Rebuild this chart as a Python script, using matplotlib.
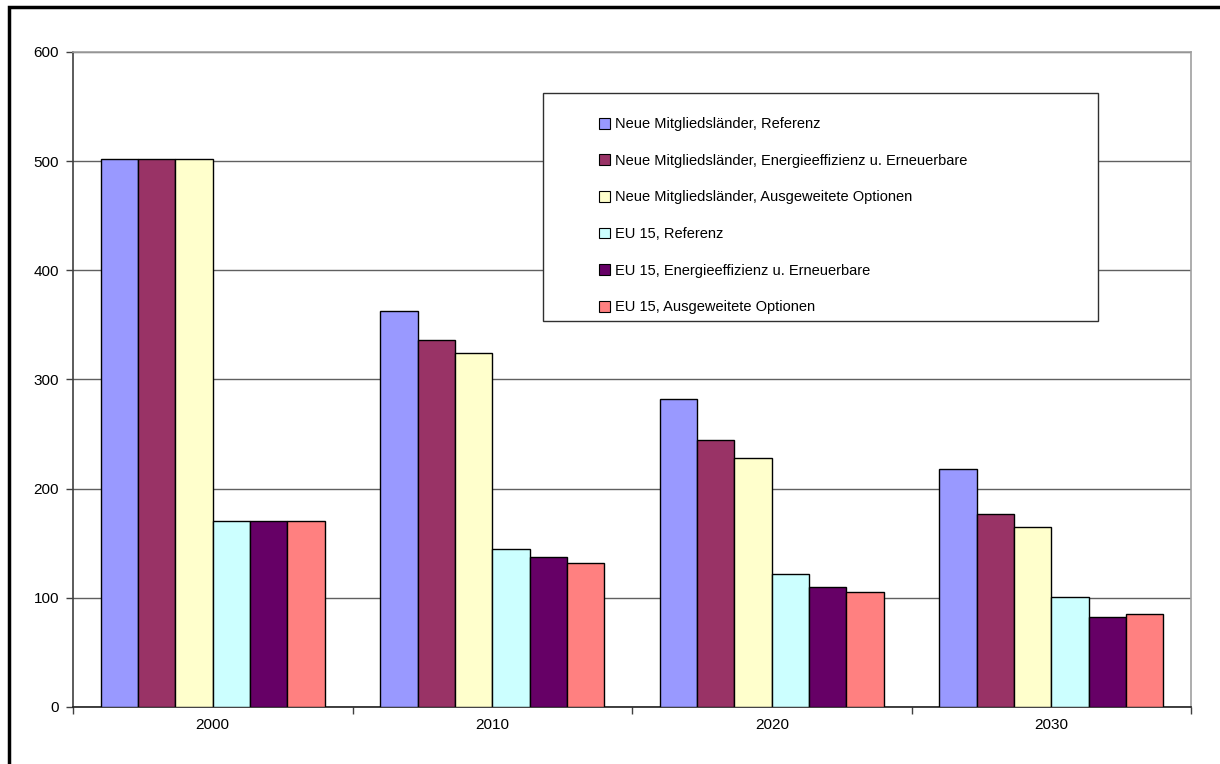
import matplotlib
matplotlib.use("Agg")
import matplotlib.pyplot as plt
from matplotlib.patches import Rectangle, Patch
import numpy as np

plt.rcParams['font.family'] = ['Liberation Sans', 'DejaVu Sans']

years = ['2000', '2010', '2020', '2030']
series_names = [
    'Neue Mitgliedsländer, Referenz',
    'Neue Mitgliedsländer, Energieeffizienz u. Erneuerbare',
    'Neue Mitgliedsländer, Ausgeweitete Optionen',
    'EU 15, Referenz',
    'EU 15, Energieeffizienz u. Erneuerbare',
    'EU 15, Ausgeweitete Optionen',
]
nm_referenz = [502, 363, 282, 218]
nm_effizienz = [502, 336, 245, 177]
nm_optionen = [502, 324, 228, 165]
eu_referenz = [170, 145, 122, 101]
eu_effizienz = [170, 137, 110, 82]
eu_optionen = [170, 132, 105, 85]
colors = ['#9999FF', '#993366', '#FFFFCC', '#CCFFFF', '#660066', '#FF8080']

values = [nm_referenz, nm_effizienz, nm_optionen, eu_referenz, eu_effizienz, eu_optionen]

fig = plt.figure(figsize=(12.2, 7.64), dpi=100)
ax = fig.add_axes([73/1220, 1-707/764, (1191-73)/1220, (707-52)/764])

# outer frame of the chart
fig.patches.append(Rectangle((9/1220, -0.05), 1.1, 1 - 7/764 + 0.05, transform=fig.transFigure,
                             fill=False, edgecolor='black', linewidth=2.5, zorder=0))

n = len(values)
w = 0.8 / n
x = np.arange(len(years)) + 0.5
for i, (vals, c) in enumerate(zip(values, colors)):
    ax.bar(x - 0.4 + w * (i + 0.5), vals, width=w, color=c, edgecolor='black',
           linewidth=1.0, zorder=3)

ax.set_xlim(0, 4)
ax.set_ylim(0, 600)
ax.set_yticks(range(0, 601, 100))
ax.yaxis.grid(True, color='#606060', linewidth=1.0, zorder=0)
ax.set_axisbelow(True)

ax.set_xticks(range(0, 5))
ax.set_xticklabels([])
ax.set_xticks(x, minor=True)
ax.set_xticklabels(years, minor=True)
ax.tick_params(axis='x', which='major', length=5, width=1, color='#404040', direction='out')
ax.tick_params(axis='x', which='minor', length=0, labelsize=11, pad=8)
ax.tick_params(axis='y', length=5, width=1, color='#404040', labelsize=11, pad=5)

ax.spines['left'].set_color('#404040')
ax.spines['bottom'].set_color('#202020')
ax.spines['top'].set_color('#a0a0a0')
ax.spines['right'].set_color('#a0a0a0')
for s in ax.spines.values():
    s.set_linewidth(1.2)

# legend box
fig.patches.append(Rectangle((543/1220, 1-321/764), (1098-543)/1220, (321-93)/764,
                             transform=fig.transFigure, facecolor='white',
                             edgecolor='#303030', linewidth=1.0, zorder=5))
handles = [Patch(facecolor=c, edgecolor='black', linewidth=0.8) for c in colors]
leg = fig.legend(handles, series_names, loc='upper left',
                 bbox_to_anchor=(592/1220, 1-110/764), frameon=False,
                 fontsize=10.5, handlelength=0.75, handleheight=0.75,
                 handletextpad=0.35, labelspacing=1.55, borderpad=0)
leg.set_zorder(6)

plt.savefig('out.png', dpi=100)
